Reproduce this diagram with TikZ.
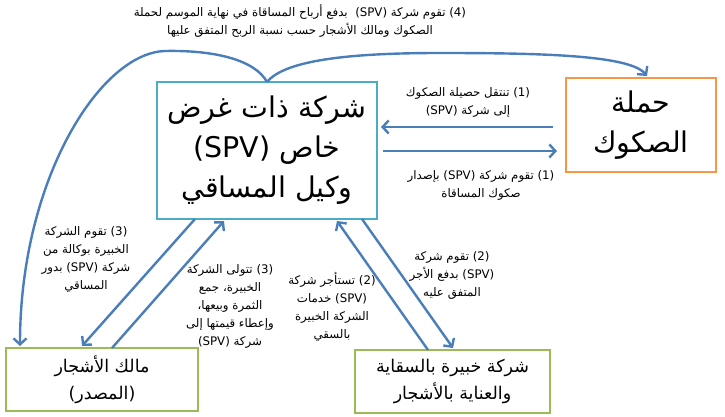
\documentclass[tikz,border=0pt]{standalone}
\usepackage{fontspec}
\setmainfont{DejaVu Sans}
\newfontfamily\arabicfont[Script=Arabic]{DejaVu Sans}
\TeXXeTstate=1
\usetikzlibrary{arrows.meta,calc}
\definecolor{arrblue}{RGB}{74,126,187}
\definecolor{spvcol}{RGB}{75,172,198}
\definecolor{orgcol}{RGB}{247,150,70}
\definecolor{grncol}{RGB}{155,187,89}
\newcommand\RL[1]{\beginR#1\endR}
\newcommand\LL[1]{\beginL#1\endL}
\begin{document}
\begin{tikzpicture}[x=1pt,y=-1pt,
  arr/.style={draw=arrblue, line width=2.4pt, -{Straight Barb[length=6pt,width=13pt]}},
  lbl/.style={align=center, font=\arabicfont\fontsize{11.8}{18}\selectfont, inner sep=0pt},
  box/.style={draw, line width=2.5pt, align=center, inner sep=0pt, outer sep=0pt},
  bigtxt/.style={font=\arabicfont\fontsize{28.5}{40}\selectfont},
  midtxt/.style={font=\arabicfont\fontsize{17.5}{27}\selectfont},
]
\useasboundingbox (0,0) rectangle (725,417);

% boxes
\node[box, bigtxt, draw=spvcol, minimum width=220pt, minimum height=137pt] (spv) at (267,150.5)
  {\RL{شركة ذات غرض}\\\RL{خاص \LL{(SPV)}}\\\RL{وكيل المساقي}};
\node[box, bigtxt, draw=orgcol, minimum width=150pt, minimum height=94pt] (hold) at (641,125)
  {\RL{حملة}\\\RL{الصكوك}};
\node[box, midtxt, draw=grncol, minimum width=192pt, minimum height=63pt] (owner) at (102,379.5)
  {\RL{مالك الأشجار}\\\RL{(المصدر)}};
\node[box, midtxt, draw=grncol, minimum width=195pt, minimum height=63pt] (expert) at (452.5,381.5)
  {\RL{شركة خبيرة بالسقاية}\\\RL{والعناية بالأشجار}};

% labels
\node[lbl] (l4) at (300,21)
  {\RL{\LL{(4)} تقوم شركة \LL{(SPV)}\ \ بدفع أرباح المساقاة في نهاية الموسم لحملة}\\
   \RL{الصكوك ومالك الأشجار حسب نسبة الربح المتفق عليها}};
\node[lbl] (l1a) at (468,102)
  {\RL{\LL{(1)} تنتقل حصيلة الصكوك}\\\RL{إلى شركة \LL{(SPV)}}};
\node[lbl] (l1b) at (481,185)
  {\RL{\LL{(1)} تقوم شركة \LL{(SPV)} بإصدار}\\\RL{صكوك المساقاة}};
\node[lbl] (l3a) at (86,259)
  {\RL{\LL{(3)} تقوم الشركة}\\\RL{الخبيرة بوكالة من}\\\RL{شركة \LL{(SPV)} بدور}\\\RL{المساقي}};
\node[lbl] (l3b) at (230,306)
  {\RL{\LL{(3)} تتولى الشركة}\\\RL{الخبيرة، جمع}\\\RL{الثمرة وبيعها،}\\\RL{وإعطاء قيمتها إلى}\\\RL{شركة \LL{(SPV)}}};
\node[lbl] (l2a) at (332,307)
  {\RL{\LL{(2)} تستأجر شركة}\\\RL{\LL{(SPV)} خدمات}\\\RL{الشركة الخبيرة}\\\RL{بالسقي}};
\node[lbl] (l2b) at (452,275)
  {\RL{\LL{(2)} تقوم شركة}\\\RL{\LL{(SPV)} بدفع الأجر}\\\RL{المتفق عليه}};

% horizontal arrows
\draw[arr] ([shift={(-13,2)}]hold.west) -- ([shift={(4,-23.5)}]spv.east);
\draw[arr] ([shift={(6,0.5)}]spv.east) -- ([shift={(-9,26)}]hold.west);

% diagonal arrows
\draw[arr] ([shift={(38,0)}]spv.south west) -- ([shift={(76,-2)}]owner.north west);
\draw[arr] ([shift={(106,0)}]owner.north west) -- ([shift={(67,2)}]spv.south west);
\draw[arr] ([shift={(73,0)}]expert.north west) -- ([shift={(180,2)}]spv.south west);
\draw[arr] ([shift={(205,0)}]spv.south west) -- ([shift={(98,-2)}]expert.north west);

% top curves
\draw[arr] (spv.north) .. controls (255,60) and (215,50) .. (165,51)
  .. controls (100,53) and (20,180) .. ([shift={(14,-2)}]owner.north west);
\draw[arr] (spv.north) .. controls (285,60) and (350,53) .. (440,53)
  .. controls (540,53) and (630,55) .. ([shift={(6,-2)}]hold.north);
\end{tikzpicture}
\end{document}
